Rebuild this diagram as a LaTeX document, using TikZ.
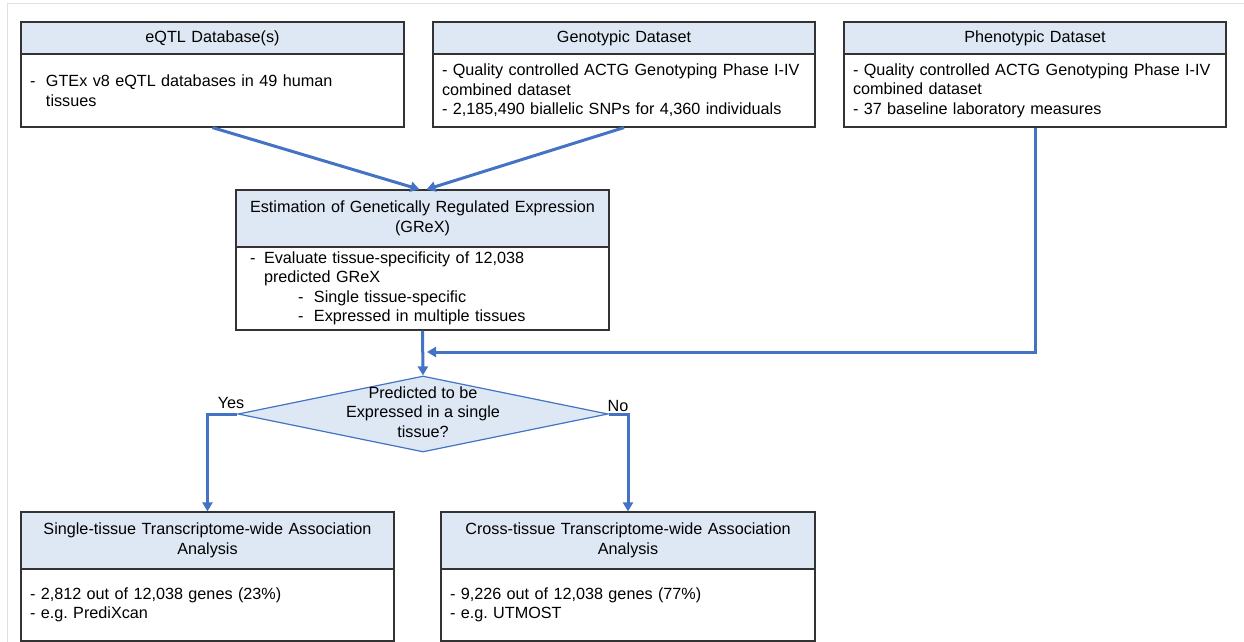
\documentclass[tikz,border=0pt]{standalone}
\usepackage{fontspec}
\setmainfont{Liberation Sans}
\usetikzlibrary{shapes.geometric,arrows.meta}
\definecolor{headblue}{HTML}{DEE8F5}
\definecolor{flowblue}{HTML}{4472C4}

\begin{document}
\begin{tikzpicture}[x=1pt,y=-1pt,
	font=\fontsize{16.2pt}{19.5pt}\selectfont,
	head/.style={draw=black!80,line width=1.2pt,fill=headblue,align=center,inner xsep=4pt,inner ysep=0pt},
	body/.style={draw=black!80,line width=1.2pt,fill=white,align=left,inner xsep=9pt,inner ysep=0pt},
	flow/.style={draw=flowblue,line width=3pt,-{Triangle[length=9pt,width=10pt]}}]
	\useasboundingbox (0,0) rectangle (1244,642);
	\draw[black!12,line width=1pt] (7,642) -- (7,4) -- (1244,4);%Rahmen

	\node[head,text width=375pt,minimum height=32pt] (eqtlhead) at (212.5,38) {eQTL Database(s)};
	\node[body,text width=365pt,minimum height=73pt] (eqtlbody) at (212.5,90.5) {\makebox[16pt][l]{-}GTEx v8 eQTL databases in 49 human\\\hspace*{16pt}tissues};
	\node[head,text width=374pt,minimum height=32pt] (genohead) at (624,38) {Genotypic Dataset};
	\node[body,text width=364pt,minimum height=73pt] (genobody) at (624,90.5) {- Quality controlled ACTG Genotyping Phase I-IV\\combined dataset\\- 2,185,490 biallelic SNPs for 4,360 individuals};
	\node[head,text width=374pt,minimum height=32pt] (phenohead) at (1035,38) {Phenotypic Dataset};
	\node[body,text width=364pt,minimum height=73pt] (phenobody) at (1035,90.5) {- Quality controlled ACTG Genotyping Phase I-IV\\combined dataset\\- 37 baseline laboratory measures};

	\node[head,text width=365pt,minimum height=57pt] (grexhead) at (422.5,218.5) {Estimation of Genetically Regulated Expression\\(GReX)};
	\node[body,text width=355pt,minimum height=83pt] (grexbody) at (422.5,288.5) {\hspace*{5pt}\makebox[14pt][l]{-}Evaluate tissue-specificity of 12,038\\\hspace*{19pt}predicted GReX\\\hspace*{53pt}\makebox[16pt][l]{-}Single tissue-specific\\\hspace*{53pt}\makebox[16pt][l]{-}Expressed in multiple tissues};
	\coordinate (merge) at (423,352);%Einmuendung

	\node[shape=diamond,draw=flowblue,line width=1.2pt,fill=headblue,minimum width=370pt,minimum height=76pt,inner sep=0pt] (decision) at (423,414) {\makebox[0pt]{\raisebox{-4pt}[0pt][0pt]{\begin{tabular}{@{}c@{}}Predicted to be\\Expressed in a single\\tissue?\end{tabular}}}};
	\node (yes) at (231,403) {Yes};
	\node (no) at (618,406) {No};

	\node[head,text width=365pt,minimum height=57pt] (singlehead) at (207.5,540.5) {Single-tissue Transcriptome-wide Association\\Analysis};
	\node[body,text width=355pt,minimum height=72pt] (singlebody) at (207.5,605) {- 2,812 out of 12,038 genes (23\%)\\- e.g.\ PrediXcan};
	\node[head,text width=366pt,minimum height=57pt] (crosshead) at (628,540.5) {Cross-tissue Transcriptome-wide Association\\Analysis};
	\node[body,text width=356pt,minimum height=72pt] (crossbody) at (628,605) {- 9,226 out of 12,038 genes (77\%)\\- e.g.\ UTMOST};

	\draw[flow] (eqtlbody.south) -- ([xshift=-3pt]grexhead.north);
	\draw[flow] (genobody.south) -- ([xshift=4pt]grexhead.north);
	\draw[flow] (phenobody.south) |- ([xshift=4pt]merge);
	\draw[flow] (grexbody.south) -- (decision.north);
	\draw[flow] (decision.west) -| (singlehead.north);%Yes
	\draw[flow] (decision.east) -| (crosshead.north);%No
\end{tikzpicture}
\end{document}
